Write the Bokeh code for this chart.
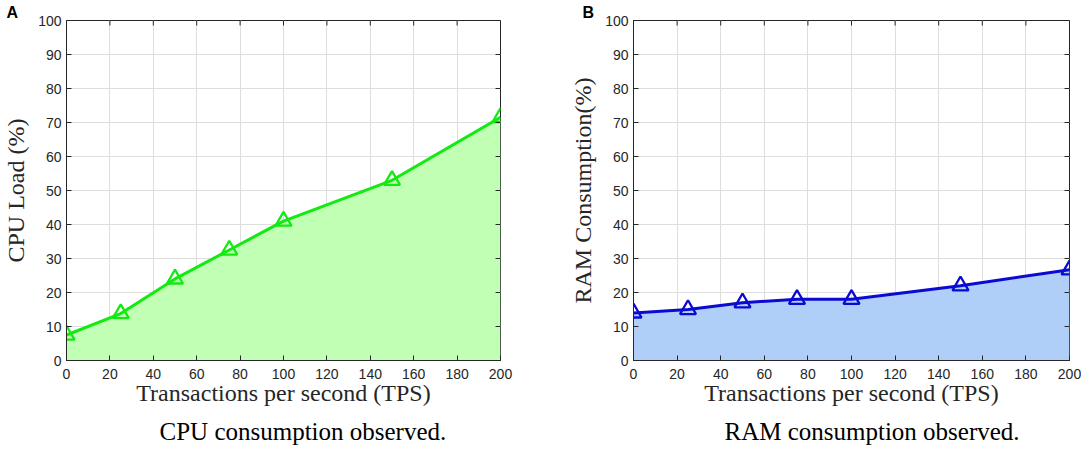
from bokeh.plotting import figure
from bokeh.layouts import row
from bokeh.models import Range1d, Title, FixedTicker
from bokeh.embed import file_html
from bokeh.resources import INLINE

# ---- data ----
tps = [0, 25, 50, 75, 100, 150, 200]
cpu_load = [7.5, 13.8, 24.0, 32.5, 41.0, 53.0, 71.5]
ram_consumption = [14.0, 15.0, 17.0, 18.0, 18.0, 22.0, 26.7]
x_ticks = [0, 20, 40, 60, 80, 100, 120, 140, 160, 180, 200]
y_ticks = [0, 10, 20, 30, 40, 50, 60, 70, 80, 90, 100]
X_MIN, X_MAX = 0, 200
Y_MIN, Y_MAX = 0, 100

SERIF = "Liberation Serif"
SANS = "Liberation Sans"
DARK = "#262626"
FRAME_W, FRAME_H = 436, 340


def make_panel(ylabel, caption, letter, letter_offset, values, line_color, fill_color,
               width, left, right, cap_offset):
    p = figure(width=width, height=452, x_range=Range1d(X_MIN, X_MAX),
               y_range=Range1d(Y_MIN, Y_MAX),
               output_backend="svg", toolbar_location=None,
               min_border_left=left, min_border_right=right,
               min_border_top=20, min_border_bottom=92)
    p.outline_line_color = DARK
    p.outline_line_width = 1

    # panel letter as the figure title
    p.title.text = letter
    p.title.align = "left"
    p.title.offset = letter_offset
    p.title.standoff = 0
    p.title.text_font = SANS
    p.title.text_font_style = "bold"
    p.title.text_font_size = "16px"
    p.title.text_color = "black"

    p.varea(x=tps, y1=0, y2=values, fill_color=fill_color)
    p.line(tps, values, line_color=line_color, line_width=3)
    p.scatter(tps, values, marker="triangle", size=16, line_color=line_color,
              line_width=2.3, fill_color=None)

    # mirrored inward ticks on the top and right edges (MATLAB box style)
    tick_dy = (Y_MAX - Y_MIN) * 5 / FRAME_H
    tick_dx = (X_MAX - X_MIN) * 5 / FRAME_W
    p.segment(x0=x_ticks, y0=[Y_MAX] * len(x_ticks), x1=x_ticks,
              y1=[Y_MAX - tick_dy] * len(x_ticks), line_color=DARK, line_width=1)
    p.segment(x0=[X_MAX] * len(y_ticks), y0=y_ticks, x1=[X_MAX - tick_dx] * len(y_ticks),
              y1=y_ticks, line_color=DARK, line_width=1)

    for ax in (p.xaxis[0], p.yaxis[0]):
        ax.axis_line_color = DARK
        ax.major_tick_line_color = DARK
        ax.major_tick_in = 5
        ax.major_tick_out = 0
        ax.minor_tick_line_color = None
        ax.major_label_text_font = SANS
        ax.major_label_text_font_size = "14px"
        ax.major_label_text_color = DARK
        ax.axis_label_text_font = SERIF
        ax.axis_label_text_font_style = "normal"
        ax.axis_label_text_font_size = "24px"
        ax.axis_label_text_color = DARK
    p.xaxis.ticker = FixedTicker(ticks=x_ticks)
    p.yaxis.ticker = FixedTicker(ticks=y_ticks)
    p.xaxis.axis_label = "Transactions per second (TPS)"
    p.yaxis.axis_label = ylabel
    p.xaxis.major_label_standoff = 8
    p.xaxis.axis_label_standoff = -2
    p.yaxis.major_label_standoff = 5
    p.yaxis.axis_label_standoff = 6

    p.xgrid.grid_line_color = "#dedede"
    p.ygrid.grid_line_color = "#dedede"
    p.xgrid.ticker = FixedTicker(ticks=x_ticks)
    p.ygrid.ticker = FixedTicker(ticks=y_ticks)

    cap = Title(text=caption, align="left", text_font=SERIF, text_font_size="25px",
                text_font_style="normal", text_color="black", offset=cap_offset,
                standoff=15)
    p.add_layout(cap, "below")
    return p


pa = make_panel("CPU Load (%)", "CPU consumption observed.", "A", -60,
                cpu_load, "#12ea12", "#c0ffb4", 542, 64, 42, 93)
pb = make_panel("RAM Consumption(%)", "RAM consumption observed.", "B", -51,
                ram_consumption, "#0a0ad2", "#b0cff8", 542, 91, 15, 91)

layout = row(pa, pb)
open("out.html", "w").write(file_html(layout, INLINE))
